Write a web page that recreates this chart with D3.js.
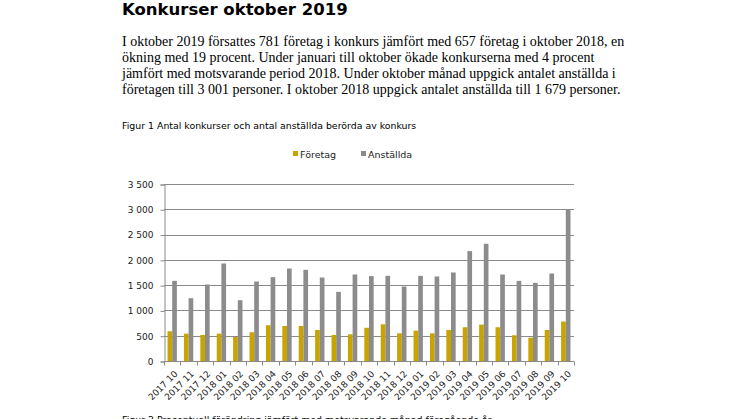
<!DOCTYPE html>
<html>
<head>
<meta charset="utf-8">
<script src="https://cdn.jsdelivr.net/npm/d3@7"></script>
<style>
  body { margin: 0; background: #fff; }
  svg { display: block; }
</style>
</head>
<body>
<div class="chart"></div>
<script>
var months = [
  '2017 10', '2017 11', '2017 12',
  '2018 01', '2018 02', '2018 03', '2018 04', '2018 05', '2018 06',
  '2018 07', '2018 08', '2018 09', '2018 10', '2018 11', '2018 12',
  '2019 01', '2019 02', '2019 03', '2019 04', '2019 05', '2019 06',
  '2019 07', '2019 08', '2019 09', '2019 10'
];

var foretag = [
  588, 541, 515, 541, 475, 568, 707, 693, 693, 614, 515, 528,
  657, 726, 548, 601, 548, 614, 667, 720, 667, 508, 462, 614, 781
];

var anstallda = [
  1585, 1242, 1512, 1928, 1202, 1572, 1658, 1829, 1803, 1651, 1367, 1710,
  1679, 1684, 1473, 1684, 1671, 1750, 2173, 2318, 1710, 1585, 1545, 1730, 3001
];

var seriesNames = ['Företag', 'Anställda'];
var yTicks = [0, 500, 1000, 1500, 2000, 2500, 3000, 3500];

var paragraph = [
  'I oktober 2019 försattes 781 företag i konkurs jämfört med 657 företag i oktober 2018, en',
  'ökning med 19 procent. Under januari till oktober ökade konkurserna med 4 procent',
  'jämfört med motsvarande period 2018. Under oktober månad uppgick antalet anställda i',
  'företagen till 3 001 personer. I oktober 2018 uppgick antalet anställda till 1 679 personer.'
];

var colors = { 'Företag': '#c9a400', 'Anställda': '#8c8c8c' };

var W = 746, H = 419;
var plot = { left: 164, right: 574, top: 184, bottom: 361 };

var svg = d3.select('.chart').append('svg')
  .attr('width', W)
  .attr('height', H);

// heading + text
svg.append('text')
  .attr('x', 122).attr('y', 15)
  .style('font-family', 'DejaVu Sans, Verdana, sans-serif')
  .style('font-weight', 'bold')
  .style('font-size', '16.5px')
  .text('Konkurser oktober 2019');

svg.append('g').selectAll('text')
  .data(paragraph)
  .enter().append('text')
  .attr('x', 122)
  .attr('y', function (d, i) { return 45.5 + i * 16; })
  .style('font-family', 'Liberation Serif, Times New Roman, serif')
  .style('font-size', '14px')
  .text(function (d) { return d; });

var smallFont = 'DejaVu Sans, Verdana, sans-serif';

svg.append('text')
  .attr('x', 122).attr('y', 129)
  .style('font-family', smallFont)
  .style('font-size', '9.4px')
  .text('Figur 1 Antal konkurser och antal anställda berörda av konkurs');

svg.append('text')
  .attr('x', 122).attr('y', 423)
  .style('font-family', smallFont)
  .style('font-size', '9.4px')
  .text('Figur 2 Procentuell förändring jämfört med motsvarande månad föregående år');

// legend
var legend = svg.append('g').attr('transform', 'translate(293,158)');
var legX = [0, 68];
seriesNames.forEach(function (name, i) {
  legend.append('rect')
    .attr('x', legX[i]).attr('y', -7)
    .attr('width', 5).attr('height', 5)
    .attr('fill', colors[name]);
  legend.append('text')
    .attr('x', legX[i] + 7).attr('y', 0)
    .style('font-family', smallFont)
    .style('font-size', '9.5px')
    .style('fill', '#222')
    .text(name);
});

// scales
var x0 = d3.scaleBand()
  .domain(months)
  .range([plot.left, plot.right])
  .paddingInner(0.43)
  .paddingOuter(0.215);

var x1 = d3.scaleBand()
  .domain(seriesNames)
  .range([0, x0.bandwidth()]);

var y = d3.scaleLinear()
  .domain([0, 3500])
  .range([plot.bottom, plot.top]);

var step = (plot.right - plot.left) / months.length;

// gridlines
svg.append('g').selectAll('line')
  .data(yTicks.filter(function (d) { return d > 0; }))
  .enter().append('line')
  .attr('x1', plot.left).attr('x2', plot.right)
  .attr('y1', function (d) { return Math.round(y(d)) + 0.5; })
  .attr('y2', function (d) { return Math.round(y(d)) + 0.5; })
  .attr('stroke', '#8a8a8a')
  .attr('stroke-width', 1);

// y axis
var yAxis = d3.axisLeft(y)
  .tickValues(yTicks)
  .tickSize(4)
  .tickPadding(7)
  .tickFormat(function (d) { return d3.format(',')(d).replace(/,/g, ' '); });

var gy = svg.append('g')
  .attr('transform', 'translate(' + (plot.left + 0.5) + ',0.5)')
  .call(yAxis);
gy.select('.domain').attr('stroke', '#8a8a8a');
gy.selectAll('.tick line').attr('stroke', '#8a8a8a');
gy.selectAll('text')
  .style('font-family', smallFont)
  .style('font-size', '9px')
  .attr('fill', '#222');

// bars
var data = months.map(function (m, i) {
  return { month: m, values: [foretag[i], anstallda[i]] };
});

var groups = svg.append('g').selectAll('g')
  .data(data)
  .enter().append('g')
  .attr('transform', function (d) { return 'translate(' + x0(d.month) + ',0)'; });

groups.selectAll('rect')
  .data(function (d) {
    return seriesNames.map(function (s, j) { return { key: s, value: d.values[j] }; });
  })
  .enter().append('rect')
  .attr('x', function (d) { return x1(d.key); })
  .attr('y', function (d) { return y(d.value); })
  .attr('width', x1.bandwidth())
  .attr('height', function (d) { return plot.bottom - y(d.value); })
  .attr('fill', function (d) { return colors[d.key]; });

// x axis
var gx = svg.append('g')
  .attr('transform', 'translate(0,' + (plot.bottom + 0.5) + ')');
gx.append('line')
  .attr('x1', plot.left).attr('x2', plot.right)
  .attr('stroke', '#8a8a8a');
gx.selectAll('.xtick')
  .data(d3.range(months.length + 1))
  .enter().append('line')
  .attr('class', 'xtick')
  .attr('x1', function (i) { return Math.round(plot.left + i * step) + 0.5; })
  .attr('x2', function (i) { return Math.round(plot.left + i * step) + 0.5; })
  .attr('y1', 0).attr('y2', 4)
  .attr('stroke', '#8a8a8a');

gx.selectAll('.xlabel')
  .data(months)
  .enter().append('text')
  .attr('class', 'xlabel')
  .attr('transform', function (d) {
    var cx = x0(d) + x0.bandwidth() / 2;
    return 'translate(' + (cx + 6) + ',13) rotate(-45)';
  })
  .attr('text-anchor', 'end')
  .style('font-family', smallFont)
  .style('font-size', '9px')
  .attr('fill', '#222')
  .text(function (d) { return d; });
</script>
</body>
</html>
